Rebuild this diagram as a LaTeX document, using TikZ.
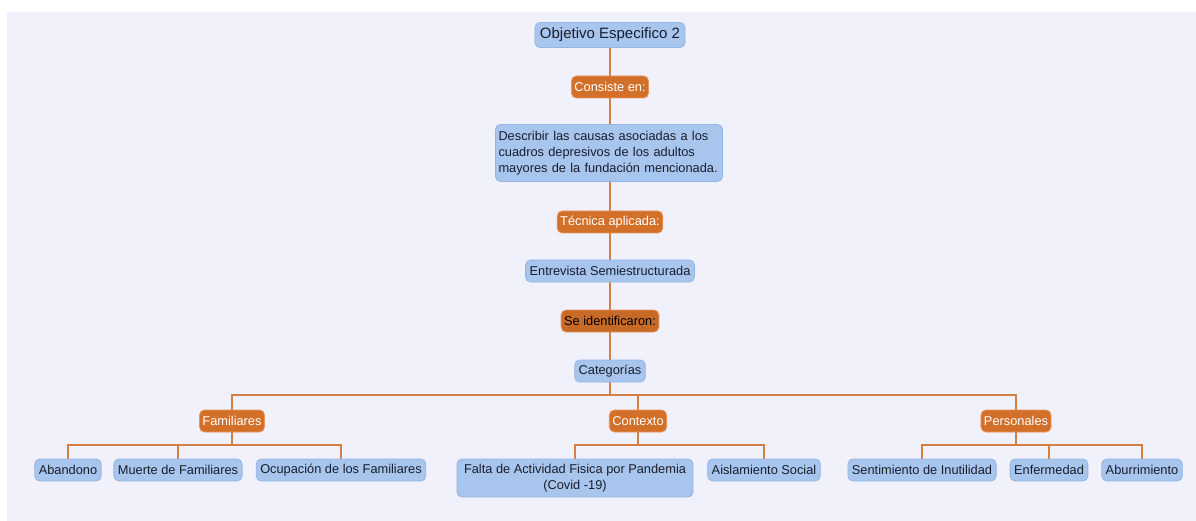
\documentclass[tikz,border=0pt]{standalone}
\usepackage{fontspec}
\setmainfont{Liberation Sans}
\usetikzlibrary{backgrounds}
\definecolor{bgc}{RGB}{241,241,252}
\definecolor{bluef}{RGB}{168,197,237}
\definecolor{blued}{RGB}{148,180,226}
\definecolor{oranf}{RGB}{210,112,42}
\definecolor{orand}{RGB}{232,150,90}
\definecolor{linec}{RGB}{212,128,66}
\definecolor{txt}{RGB}{25,30,45}
\tikzset{
  bluebox/.style={draw=blued, line width=0.8pt, fill=bluef, rounded corners=5pt, text=txt,
    font=\fontsize{12.8}{16}\selectfont, inner xsep=4pt, inner ysep=3pt, minimum height=22pt},
  orbox/.style={draw=orand, line width=0.8pt, fill=oranf, rounded corners=5pt, text=white,
    font=\fontsize{12.8}{16}\selectfont, inner xsep=3pt, inner ysep=3pt, minimum height=22pt},
  conn/.style={draw=linec, line width=2pt}
}
\begin{document}
\begin{tikzpicture}[x=1pt,y=-1pt]
\useasboundingbox (0,0) rectangle (1196,521);
\begin{scope}[on background layer]
  \fill[bgc] (7,12) rectangle (1196,521);
\end{scope}
% main chain
\node[bluebox, font=\fontsize{15}{18}\selectfont, minimum height=25pt, inner xsep=5pt] (obj) at (610,35) {Objetivo Especifico 2};
\node[orbox] (cons) at (610,87) {Consiste en:};
\node[bluebox, align=left, text width=221pt, inner xsep=3pt, minimum height=57pt] (desc) at (609,153)
  {Describir las causas asociadas a los\\cuadros depresivos de los adultos\\mayores de la fundación mencionada.};
\node[orbox] (tec) at (610,222) {Técnica aplicada:};
\node[bluebox] (ent) at (610,271) {Entrevista Semiestructurada};
\node[orbox, text=black, fill=oranf!95!black] (seid) at (610,321) {Se identificaron:};
\node[bluebox] (cat) at (610,371) {Categorías};
% categories
\node[orbox] (fam) at (232,421) {Familiares};
\node[orbox] (ctx) at (638,421) {Contexto};
\node[orbox] (pers) at (1016,421) {Personales};
% leaves
\node[bluebox] (aba) at (68,470) {Abandono};
\node[bluebox] (mue) at (178,470) {Muerte de Familiares};
\node[bluebox] (ocu) at (341,470) {Ocupación de los Familiares};
\node[bluebox, align=center, minimum width=236pt, minimum height=38pt] (fal) at (575,478)
  {Falta de Actividad Fisica por Pandemia\\(Covid -19)};
\node[bluebox] (ais) at (764,470) {Aislamiento Social};
\node[bluebox] (sen) at (922,470) {Sentimiento de Inutilidad};
\node[bluebox] (enf) at (1049,470) {Enfermedad};
\node[bluebox] (abu) at (1142,470) {Aburrimiento};
\coordinate (b1) at (0,395);
\coordinate (b2) at (0,445);
\begin{scope}[on background layer]
  \draw[conn] (obj.south) -- (cons.north);
  \draw[conn] (cons.south) -- (cons.south |- desc.north);
  \draw[conn] (tec.north |- desc.south) -- (tec.north);
  \draw[conn] (tec.south) -- (ent.north);
  \draw[conn] (ent.south) -- (seid.north);
  \draw[conn] (seid.south) -- (cat.north);
  \draw[conn] (cat.south) -- (cat.south |- b1);
  \draw[conn] (fam.north) -- (fam.north |- b1) -- (pers.north |- b1) -- (pers.north);
  \draw[conn] (ctx.north) -- (ctx.north |- b1);
  % familiares
  \draw[conn] (fam.south) -- (fam.south |- b2);
  \draw[conn] (aba.north) -- (aba.north |- b2) -- (ocu.north |- b2) -- (ocu.north);
  \draw[conn] (mue.north) -- (mue.north |- b2);
  % contexto
  \draw[conn] (ctx.south) -- (ctx.south |- b2);
  \draw[conn] (fal.north) -- (fal.north |- b2) -- (ais.north |- b2) -- (ais.north);
  % personales
  \draw[conn] (pers.south) -- (pers.south |- b2);
  \draw[conn] (sen.north) -- (sen.north |- b2) -- (abu.north |- b2) -- (abu.north);
  \draw[conn] (enf.north) -- (enf.north |- b2);
\end{scope}
\end{tikzpicture}
\end{document}
